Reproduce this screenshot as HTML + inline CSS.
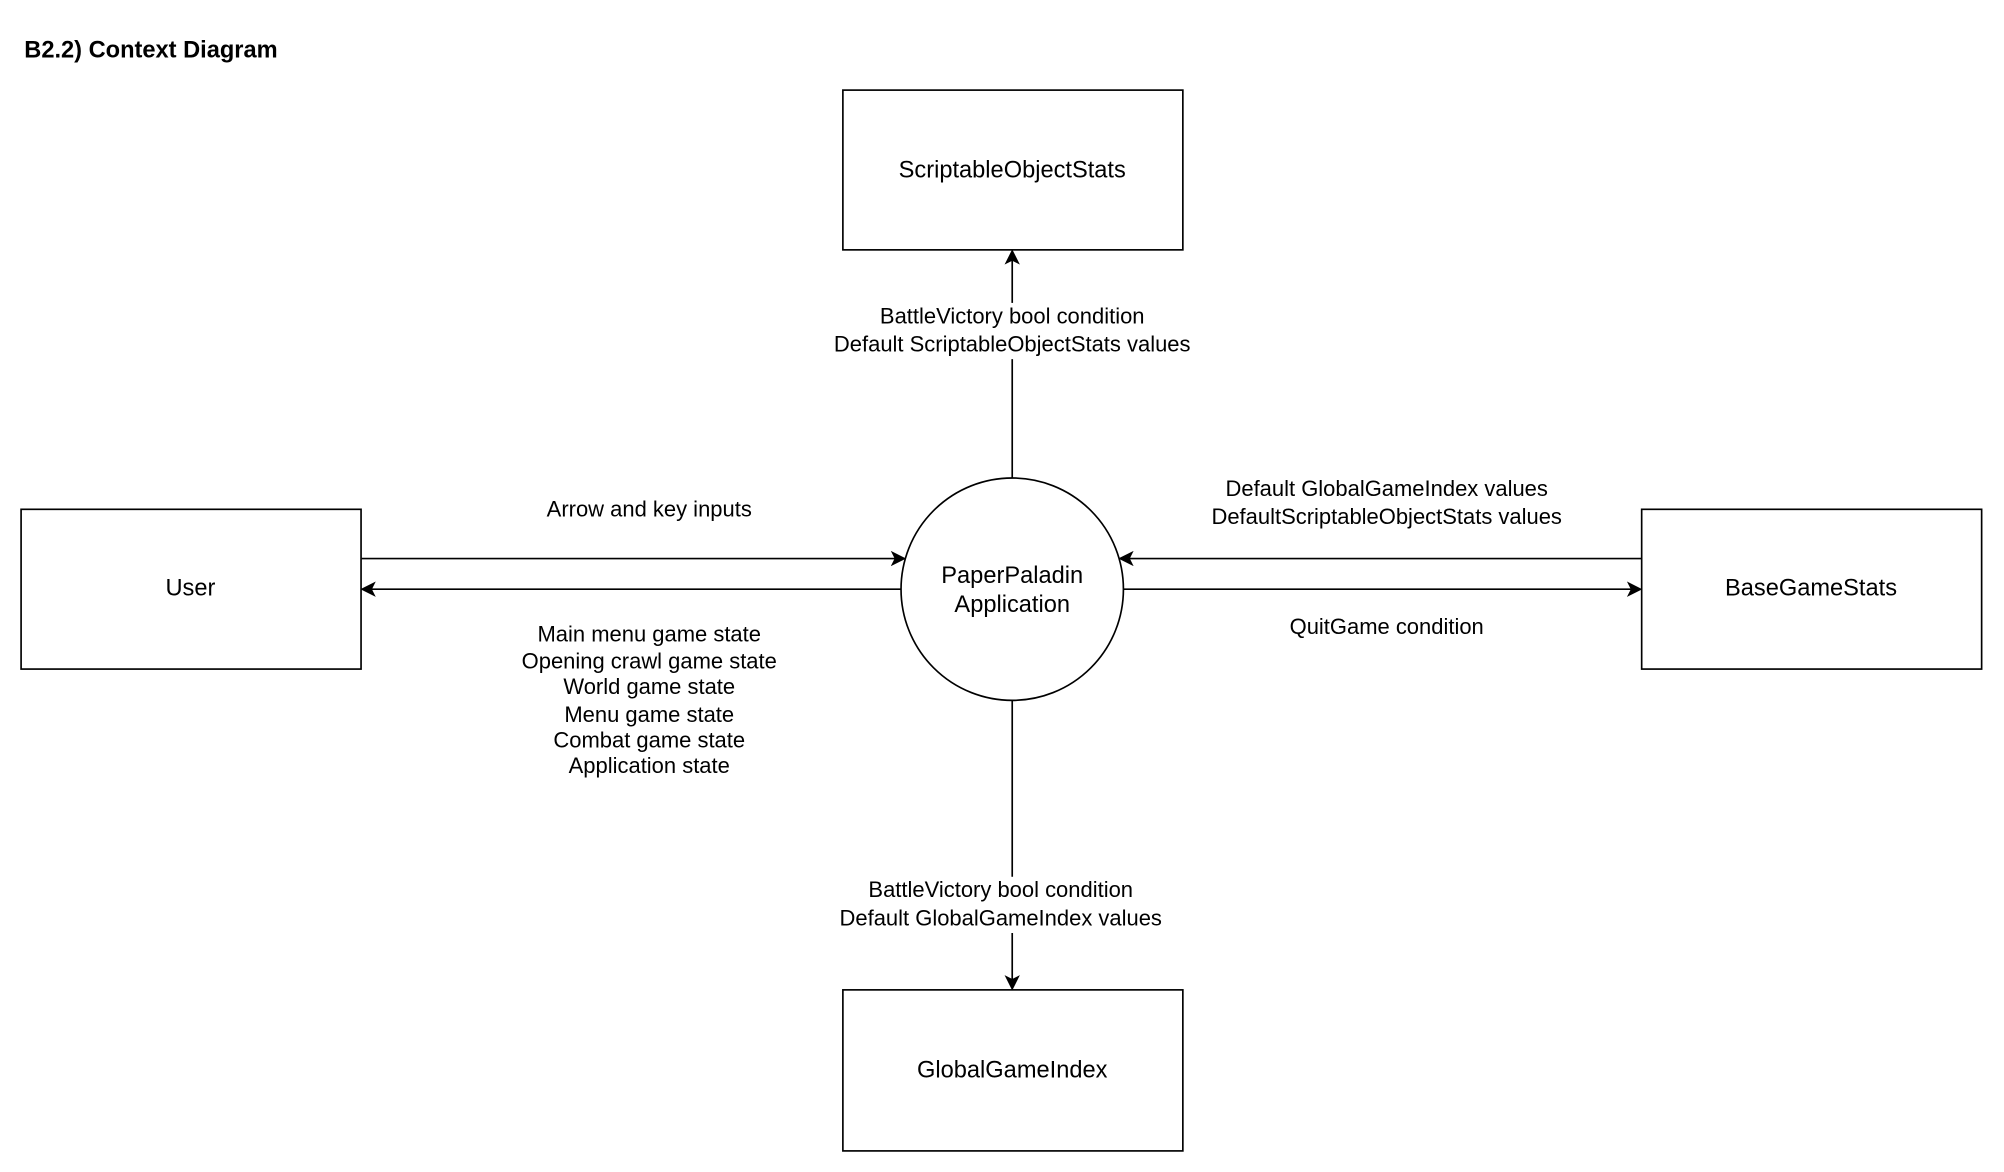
<!DOCTYPE html>
<html><head><style>html,body{margin:0;padding:0;background:#fff}svg{display:block}</style></head>
<body>
<svg width="2004" height="1172" viewBox="0 0 1568 917" preserveAspectRatio="none" xmlns="http://www.w3.org/2000/svg" font-family="Liberation Sans, Arial, sans-serif">
<defs><marker id="a" markerWidth="12" markerHeight="12" refX="10" refY="6" orient="auto" markerUnits="userSpaceOnUse"><path d="M0,0 L12,6 L0,12 L3,6 Z" fill="#000"/></marker></defs>
<text x="19" y="45" font-size="18.5" font-weight="bold">B2.2) Context Diagram</text>
<g fill="#fff" stroke="#000" stroke-width="1.3">
<rect x="659.5" y="70.5" width="266" height="125"/>
<rect x="16.5" y="398.5" width="266" height="125"/>
<rect x="1284.5" y="398.5" width="266" height="125"/>
<rect x="659.5" y="774.5" width="266" height="126"/>
<circle cx="792" cy="461" r="87"/>
</g>
<g stroke="#000" stroke-width="1.3" fill="none">
<line x1="792" y1="374" x2="792" y2="197" marker-end="url(#a)"/>
<line x1="792" y1="548" x2="792" y2="773" marker-end="url(#a)"/>
<line x1="283" y1="437" x2="707" y2="437" marker-end="url(#a)"/>
<line x1="705" y1="461" x2="284" y2="461" marker-end="url(#a)"/>
<line x1="1284" y1="437" x2="877" y2="437" marker-end="url(#a)"/>
<line x1="879" y1="461" x2="1283" y2="461" marker-end="url(#a)"/>
</g>
<g fill="#fff"><rect x="645" y="237" width="295" height="44"/><rect x="650" y="686" width="266" height="44"/></g>
<g font-size="18.5" text-anchor="middle" fill="#000">
<text x="792" y="139">ScriptableObjectStats</text>
<text x="149" y="466">User</text>
<text x="1417" y="466">BaseGameStats</text>
<text x="792" y="843">GlobalGameIndex</text>
<text x="792" y="456">PaperPaladin</text>
<text x="792" y="479">Application</text>
</g>
<g font-size="17.2" text-anchor="middle" fill="#000">
<text x="792" y="253">BattleVictory bool condition</text>
<text x="792" y="275">Default ScriptableObjectStats values</text>
<text x="783" y="702">BattleVictory bool condition</text>
<text x="783" y="724">Default GlobalGameIndex values</text>
<text x="508" y="404">Arrow and key inputs</text>
<text x="1085" y="388">Default GlobalGameIndex values</text>
<text x="1085" y="410">DefaultScriptableObjectStats values</text>
<text x="1085" y="496">QuitGame condition</text>
<text x="508" y="502">Main menu game state</text>
<text x="508" y="523">Opening crawl game state</text>
<text x="508" y="543">World game state</text>
<text x="508" y="565">Menu game state</text>
<text x="508" y="585">Combat game state</text>
<text x="508" y="605">Application state</text>
</g>
</svg>
</body></html>
